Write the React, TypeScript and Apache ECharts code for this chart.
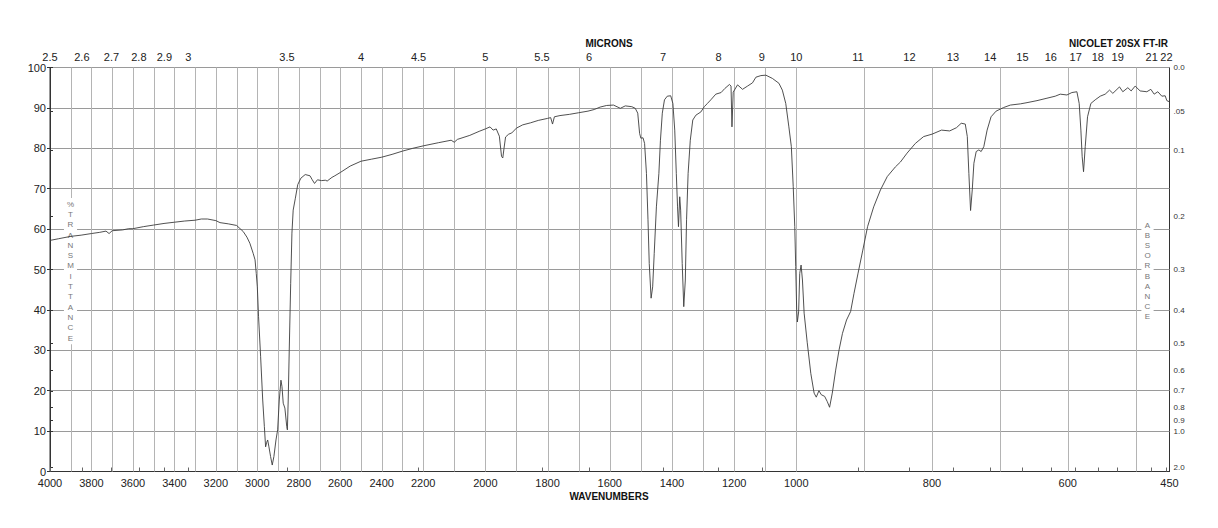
import React, { useEffect, useRef } from 'react';
import * as echarts from 'echarts';

const wavenumbers = [
  4000, 3960, 3900, 3850, 3800, 3760, 3730, 3715, 3700, 3650, 3620, 3600, 3550, 3500, 3450, 3400, 3350, 3300, 3270, 3240,
  3200, 3180, 3140, 3100, 3068, 3050, 3036, 3020, 3011, 3005, 3000, 2994, 2984, 2974, 2966, 2960, 2955, 2950, 2944, 2936,
  2928, 2920, 2910, 2902, 2894, 2886, 2881, 2875, 2867, 2858, 2855, 2851, 2846, 2839, 2833, 2827, 2817, 2805, 2790, 2769,
  2746, 2735, 2724, 2710, 2690, 2672, 2663, 2640, 2626, 2600, 2552, 2500, 2450, 2400, 2350, 2300, 2250, 2200, 2150, 2110,
  2100, 2090, 2050, 2020, 2000, 1985, 1975, 1965, 1955, 1948, 1944, 1940, 1935, 1925, 1915, 1900, 1880, 1855, 1830, 1800,
  1790, 1784, 1778, 1760, 1730, 1700, 1670, 1650, 1631, 1610, 1588, 1566, 1550, 1529, 1518, 1510, 1504, 1500, 1493, 1488,
  1482, 1477, 1473, 1467, 1462, 1457, 1450, 1442, 1437, 1431, 1424, 1415, 1404, 1397, 1391, 1386, 1382, 1379, 1375, 1372,
  1367, 1362, 1357, 1353, 1348, 1341, 1333, 1323, 1307, 1296, 1286, 1275, 1259, 1242, 1230, 1215, 1210, 1207, 1203, 1189,
  1173, 1157, 1141, 1130, 1114, 1098, 1077, 1056, 1045, 1034, 1024, 1016, 1010, 1005, 1002, 999.5, 998.5, 996.6, 995, 993,
  991, 988.5, 984, 978.7, 973.8, 970.6, 966.7, 963.2, 958.3, 954.4, 951, 947, 942, 937, 932, 926, 920, 915, 909, 902,
  895, 886, 876, 866, 854, 846.6, 836.8, 824.6, 812.4, 800, 786, 774, 764, 757, 751, 748, 745.7, 743.2, 740.7, 738.3,
  734.9, 731, 727.6, 723.7, 718.8, 713, 705.6, 694.4, 684.5, 669.8, 660, 645.3, 630.6, 618.4, 611, 601.2, 593.9, 586.5, 583.1, 580.6,
  578.7, 576.7, 574.2, 570.8, 565.9, 559.5, 552.1, 544.8, 538.4, 533.5, 523.7, 518.8, 511.4, 506.5, 500.6, 493.3, 483.4, 477.5, 472.6, 467.2,
  461.3, 456.4, 453.9, 450
];

const transmittance = [
  57.2, 57.6, 58.2, 58.5, 58.9, 59.2, 59.5, 58.9, 59.6, 59.8, 60.1, 60.1, 60.6, 61.0, 61.4, 61.7, 62.0, 62.2, 62.5, 62.5,
  62.1, 61.6, 61.3, 60.9, 59.4, 58.0, 56.5, 54.0, 52.4, 49.0, 45.7, 38.3, 28.4, 17.7, 11.1, 6.1, 7.2, 7.8, 6.1, 3.7,
  1.6, 3.7, 7.8, 10.3, 17.7, 22.6, 21.0, 16.9, 15.7, 11.1, 10.3, 17.7, 30.0, 46.6, 59.0, 64.7, 67.5, 71.0, 72.6, 73.5,
  73.2, 72.2, 71.3, 72.2, 72.0, 72.1, 71.9, 72.8, 73.2, 74.0, 75.6, 76.8, 77.3, 77.8, 78.5, 79.3, 80.0, 80.6, 81.4, 82.0,
  81.5, 82.2, 83.2, 84.2, 84.8, 85.3, 84.5, 84.8, 83.0, 78.0, 77.6, 80.0, 82.8, 83.5, 83.8, 85.0, 85.8, 86.3, 86.9, 87.4,
  87.6, 86.0, 87.8, 88.1, 88.4, 88.8, 89.2, 89.6, 90.2, 90.6, 90.7, 89.9, 90.5, 90.3, 89.9, 88.7, 83.7, 82.5, 82.6, 81.2,
  73.8, 62.3, 51.5, 42.9, 45.7, 54.0, 65.5, 73.8, 82.0, 88.7, 92.0, 92.9, 93.0, 91.1, 84.5, 73.8, 65.5, 60.6, 68.0, 64.7,
  51.5, 40.8, 47.4, 62.3, 73.8, 82.0, 87.0, 88.2, 89.0, 90.3, 91.1, 92.0, 93.4, 93.8, 94.8, 95.8, 95.4, 85.3, 93.9, 95.7,
  94.6, 95.4, 96.2, 97.6, 98.0, 98.1, 97.3, 96.1, 94.4, 91.1, 85.3, 80.4, 70.5, 60.6, 50.7, 40.0, 37.0, 39.5, 49.0, 51.1,
  47.4, 39.2, 32.0, 24.3, 19.4, 18.4, 20.0, 19.0, 18.6, 17.3, 15.9, 19.4, 25.1, 30.1, 34.2, 37.5, 39.6, 44.1, 49.1, 54.8,
  60.6, 65.5, 69.7, 73.0, 75.4, 76.6, 78.8, 81.2, 82.9, 83.5, 84.5, 84.3, 85.1, 86.2, 86.0, 82.9, 73.8, 64.6, 69.7, 76.3,
  79.2, 79.6, 79.2, 80.4, 84.5, 87.8, 89.2, 90.1, 90.7, 91.0, 91.3, 91.8, 92.4, 92.9, 93.4, 93.2, 93.8, 94.0, 91.1, 84.5,
  77.9, 74.2, 80.4, 87.8, 91.1, 92.0, 92.9, 93.4, 94.4, 93.6, 95.2, 94.0, 95.0, 94.2, 95.4, 94.2, 94.0, 94.6, 93.4, 94.0,
  92.9, 93.0, 91.8, 91.5
];

const wavenumberLabels = [4000, 3800, 3600, 3400, 3200, 3000, 2800, 2600, 2400, 2200, 2000, 1800, 1600, 1400, 1200, 1000, 800, 600, 450];
const micronLabels = [2.5, 2.6, 2.7, 2.8, 2.9, 3, 3.5, 4, 4.5, 5, 5.5, 6, 7, 8, 9, 10, 11, 12, 13, 14, 15, 16, 17, 18, 19, 21, 22];
const absorbanceValues = [0, 0.05, 0.1, 0.2, 0.3, 0.4, 0.5, 0.6, 0.7, 0.8, 0.9, 1.0, 2.0];
const absorbanceLabels = ['0.0', '.05', '0.1', '0.2', '0.3', '0.4', '0.5', '0.6', '0.7', '0.8', '0.9', '1.0', '2.0'];

// piecewise wavenumber scale: three equal-width segments
function toPos(wn: number): number {
  if (wn >= 2200) return (4000 - wn) / 1800;
  if (wn >= 1000) return 1 + (2200 - wn) / 1200;
  return 2 + (1000 - wn) / 550;
}

const gridWns: number[] = [];
for (let w = 3900; w >= 500; w -= 100) gridWns.push(w);

const FONT = 'Liberation Sans, Arial, Helvetica, sans-serif';

function nearestLabel(v: number, vals: number[], labels: string[]): string {
  let best = 0;
  let bd = Infinity;
  vals.forEach((p, i) => {
    const d = Math.abs(p - v);
    if (d < bd) { bd = d; best = i; }
  });
  return bd < 1e-4 ? labels[best] : '';
}

export default function App() {
  const ref = useRef<HTMLDivElement>(null);
  useEffect(() => {
    const chart = echarts.init(ref.current!, null, { renderer: 'svg' });
    const bottomPos = wavenumberLabels.map(toPos);
    const micronPos = micronLabels.map((m) => toPos(10000 / m));
    const absT = absorbanceValues.map((a) => 100 * Math.pow(10, -a));
    const data = wavenumbers.map((w, i) => [toPos(w), transmittance[i]]);

    const option: any = {
      animation: false,
      backgroundColor: '#fff',
      grid: { left: 50, right: 48.5, top: 67.5, bottom: 56.5, show: true, borderColor: '#333', borderWidth: 1, backgroundColor: 'transparent' },
      xAxis: [
        {
          type: 'value', min: 0, max: 3, position: 'bottom',
          axisLine: { show: true, lineStyle: { color: '#333', width: 1 } },
          axisTick: { show: false },
          splitLine: { show: false },
          axisLabel: {
            customValues: bottomPos, margin: 6, fontSize: 11, color: '#222', fontFamily: FONT,
            formatter: (v: number) => nearestLabel(v, bottomPos, wavenumberLabels.map(String)),
          },
        },
        {
          type: 'value', min: 0, max: 3, position: 'top',
          axisLine: { show: true, lineStyle: { color: '#333', width: 1 } },
          axisTick: { show: true, customValues: micronPos, length: 4, lineStyle: { color: '#666' } },
          splitLine: { show: false },
          axisLabel: {
            customValues: micronPos, margin: 5, fontSize: 11, color: '#222', fontFamily: FONT,
            formatter: (v: number) => nearestLabel(v, micronPos, micronLabels.map(String)),
          },
        },
      ],
      yAxis: [
        {
          type: 'value', min: 0, max: 100, interval: 10, position: 'left',
          axisLine: { show: true, lineStyle: { color: '#333', width: 1 } },
          axisTick: { show: true, length: 3, lineStyle: { color: '#333' } },
          splitLine: { show: true, lineStyle: { color: '#9a9a9a', width: 1 } },
          axisLabel: { fontSize: 11, color: '#222', margin: 4, fontFamily: FONT },
        },
        {
          type: 'value', min: 0, max: 100, position: 'right',
          axisLine: { show: true, lineStyle: { color: '#333', width: 1 } },
          axisTick: { show: true, customValues: absT, length: 3, lineStyle: { color: '#333' } },
          splitLine: { show: false },
          axisLabel: {
            customValues: absT, margin: 4, fontSize: 8, color: '#333', fontFamily: FONT,
            formatter: (v: number) => nearestLabel(v, absT, absorbanceLabels),
          },
        },
      ],
      graphic: [
        {
          type: 'text', x: 70.5, y: 198, z: 2,
          style: {
            text: '%TRANSMITTANCE'.split('').join('\n'), fill: '#777', font: '8px ' + FONT,
            align: 'center', verticalAlign: 'top', lineHeight: 10.3, backgroundColor: '#fff', padding: [1, 3],
          },
        },
        {
          type: 'text', x: 1147.5, y: 219, z: 2,
          style: {
            text: 'ABSORBANCE'.split('').join('\n'), fill: '#777', font: '8px ' + FONT,
            align: 'center', verticalAlign: 'top', lineHeight: 10.2, backgroundColor: '#fff', padding: [1, 3],
          },
        },
        {
          type: 'text', x: 609, y: 43, z: 2,
          style: { text: 'MICRONS', fill: '#111', font: 'bold 10px ' + FONT, align: 'center', verticalAlign: 'middle' },
        },
        {
          type: 'text', x: 1168, y: 43, z: 2,
          style: { text: 'NICOLET 20SX FT-IR', fill: '#111', font: 'bold 10px ' + FONT, align: 'right', verticalAlign: 'middle' },
        },
        {
          type: 'text', x: 609, y: 496, z: 2,
          style: { text: 'WAVENUMBERS', fill: '#111', font: 'bold 10px ' + FONT, align: 'center', verticalAlign: 'middle' },
        },
      ],
      series: [
        {
          type: 'custom', xAxisIndex: 0, yAxisIndex: 0, z: 1, silent: true,
          data: gridWns.map((w) => [toPos(w), 0]),
          renderItem: (params: any, api: any) => {
            const p0 = api.coord([api.value(0), 0]);
            const p1 = api.coord([api.value(0), 100]);
            const x = Math.round(p0[0]) + 0.5;
            return {
              type: 'line',
              shape: { x1: x, y1: p0[1], x2: x, y2: p1[1] },
              style: { stroke: '#b4b4b4', lineWidth: 1 },
            };
          },
        },
        {
          type: 'line', xAxisIndex: 0, yAxisIndex: 0, z: 3,
          data, showSymbol: false, symbol: 'none', smooth: false,
          lineStyle: { color: '#3c3c3c', width: 0.9 },
        },
      ],
    };
    chart.setOption(option);
    return () => chart.dispose();
  }, []);
  return (
    <div
      ref={ref}
      style={{ position: 'fixed', left: 0, top: 0, width: 1218, height: 528, background: '#fff' }}
    />
  );
}
